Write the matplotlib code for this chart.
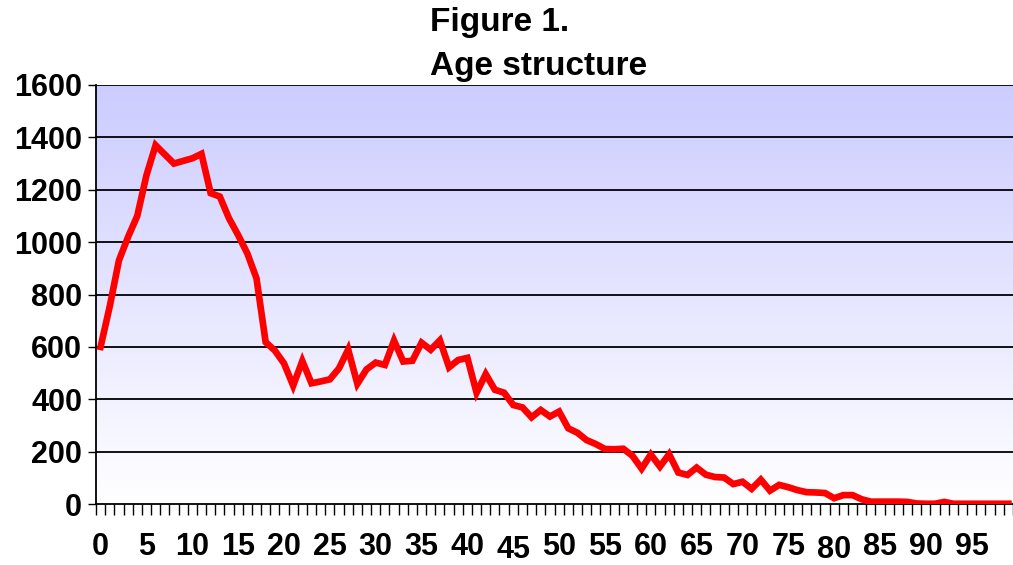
import matplotlib
matplotlib.use("Agg")
import matplotlib.pyplot as plt
import numpy as np
from matplotlib.colors import LinearSegmentedColormap

# age 0..99, counts
ages = list(range(100))
counts = [
    600, 755, 930, 1020, 1100, 1255, 1370, 1335, 1300, 1310,
    1320, 1337, 1187, 1174, 1091, 1027, 957, 862, 618, 586,
    537, 452, 546, 461, 468, 476, 518, 590, 459, 514,
    540, 531, 624, 544, 547, 616, 589, 625, 522, 550,
    558, 425, 496, 436, 425, 378, 369, 331, 359, 334,
    353, 289, 272, 244, 229, 210, 209, 211, 184, 135,
    189, 143, 190, 120, 111, 139, 112, 103, 101, 76,
    85, 58, 93, 51, 73, 64, 53, 45, 44, 42,
    22, 34, 34, 18, 9, 9, 9, 9, 8, 2,
    1, 1, 8, 1, 1, 1, 1, 1, 1, 1,
]
xlabels = [str(a) for a in range(0, 100, 5)]
yticks = list(range(0, 1601, 200))

plt.rcParams['font.family'] = ['Liberation Sans', 'DejaVu Sans']
plt.rcParams['font.weight'] = 'bold'

fig = plt.figure(figsize=(10.13, 5.65), dpi=100)
ax = fig.add_axes([96 / 1013, 1 - 504 / 565, 917 / 1013, 419 / 565])

# background gradient, lavender at top fading to white
cmap = LinearSegmentedColormap.from_list('bg', ['#ffffff', '#ccccff'])
grad = np.linspace(0, 1, 256).reshape(-1, 1)
ax.imshow(grad, cmap=cmap, aspect='auto', origin='lower',
          extent=[-0.5, 99.5, 0, 1600], zorder=0)

for v in yticks[1:]:
    ax.axhline(v, color='black', lw=1.3, zorder=1)

ax.plot(ages, counts, color='#ff0000', lw=4.8, solid_joinstyle='miter', zorder=3)

ax.set_xlim(-0.5, 99.5)
ax.set_ylim(0, 1600)

for s in ['top', 'right']:
    ax.spines[s].set_visible(False)
ax.spines['left'].set_linewidth(1.3)
ax.spines['bottom'].set_linewidth(1.3)

ax.set_yticks(yticks)
ax.set_yticklabels([str(v) for v in yticks], fontsize=22, fontweight='bold')
ax.tick_params(axis='y', length=6, width=1, pad=4)

ax.set_xticks(np.arange(-0.5, 100, 1), minor=True)
ax.tick_params(axis='x', which='minor', length=8, width=1, direction='out')
ax.set_xticks(range(0, 100, 5))
ax.set_xticklabels(xlabels, fontsize=22, fontweight='bold')
ax.tick_params(axis='x', which='major', length=0, pad=20)
# two labels sit a little lower in the original
for lab in ax.get_xticklabels():
    if lab.get_text() in ('45', '80'):
        lab.set_y(-0.008)

fig.text(430 / 1013, 1 - 23 / 565, 'Figure 1.', fontsize=24, fontweight='bold',
         ha='left', va='center')
fig.text(430 / 1013, 1 - 67 / 565, 'Age structure', fontsize=24, fontweight='bold',
         ha='left', va='center')

fig.savefig('out.png', dpi=100)
